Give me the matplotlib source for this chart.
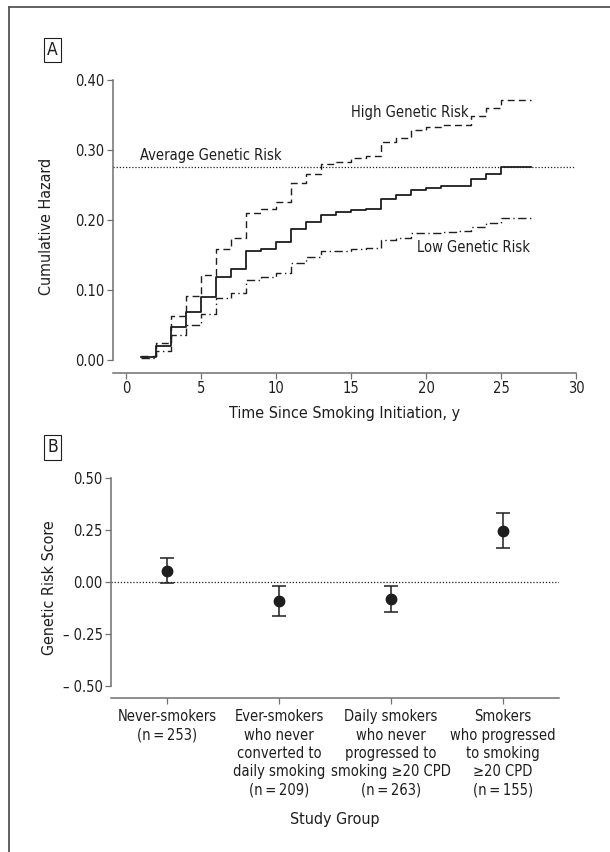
import matplotlib
matplotlib.use("Agg")
import matplotlib.pyplot as plt

plt.rcParams['font.family'] = ['Liberation Sans Narrow', 'DejaVu Sans']
plt.rcParams['font.stretch'] = 'condensed'

# Panel A: cumulative hazard by genetic risk (step curves, years 1..25, flat to 27)
years = [1, 2, 3, 4, 5, 6, 7, 8, 9, 10, 11, 12, 13, 14, 15, 16, 17, 18, 19, 20,
         21, 22, 23, 24, 25, 27]
avg_risk = [0.004, 0.020, 0.047, 0.068, 0.090, 0.118, 0.130, 0.155, 0.159, 0.168,
            0.187, 0.197, 0.207, 0.211, 0.214, 0.216, 0.230, 0.235, 0.243, 0.246,
            0.249, 0.249, 0.258, 0.265, 0.275, 0.275]
high_risk = [0.005, 0.024, 0.063, 0.092, 0.121, 0.158, 0.174, 0.210, 0.216, 0.226,
             0.253, 0.266, 0.280, 0.283, 0.289, 0.291, 0.312, 0.317, 0.329, 0.333,
             0.335, 0.336, 0.349, 0.360, 0.371, 0.371]
low_risk = [0.003, 0.013, 0.035, 0.050, 0.066, 0.088, 0.096, 0.114, 0.118, 0.124,
            0.139, 0.147, 0.155, 0.156, 0.159, 0.160, 0.171, 0.174, 0.181, 0.182,
            0.183, 0.184, 0.190, 0.196, 0.203, 0.203]
avg_level = 0.275

# Panel B: genetic risk score by study group
groups = ["Never-smokers\n(n\u2009=\u2009253)",
          "Ever-smokers\nwho never\nconverted to\ndaily smoking\n(n\u2009=\u2009209)",
          "Daily smokers\nwho never\nprogressed to\nsmoking \u226520 CPD\n(n\u2009=\u2009263)",
          "Smokers\nwho progressed\nto smoking\n\u226520 CPD\n(n\u2009=\u2009155)"]
score = [0.053, -0.094, -0.082, 0.244]
ci_low = [-0.005, -0.165, -0.144, 0.163]
ci_high = [0.112, -0.022, -0.022, 0.329]

ink = '#1e1e1e'
spine_c = '#707070'
fs = 10.5

fig = plt.figure(figsize=(6.1, 8.52), dpi=100)

# outer frame (top and left only)
fig.add_artist(plt.Line2D([9/610, 1], [1 - 6.7/852, 1 - 6.7/852],
                          transform=fig.transFigure, color='#555555', lw=1.3))
fig.add_artist(plt.Line2D([9/610, 9/610], [0, 1 - 6.7/852],
                          transform=fig.transFigure, color='#555555', lw=1.3))


def style_axes(ax):
    for s in ['top', 'right']:
        ax.spines[s].set_visible(False)
    for s in ['left', 'bottom']:
        ax.spines[s].set_color(spine_c)
        ax.spines[s].set_linewidth(1.1)
    ax.tick_params(direction='out', length=4, width=0.9, color=spine_c,
                   labelsize=fs, labelcolor=ink, pad=2)


# ---- Panel A ----
axA = fig.add_axes([113/610, 1 - 373/852, (576 - 113)/610, (373 - 80)/852])
style_axes(axA)
axA.spines['left'].set_bounds(0, 0.40)
axA.step(years, avg_risk, where='post', color=ink, lw=1.3, linestyle='-')
axA.step(years, high_risk, where='post', color=ink, lw=1.0, linestyle=(0, (5, 3)))
axA.step(years, low_risk, where='post', color=ink, lw=1.0, linestyle=(0, (6, 2.5, 1, 2.5)))
axA.axhline(avg_level, color=ink, lw=0.9, linestyle=(0, (1, 1.5)))
axA.set_xlim(-0.87, 30)
axA.set_ylim(-0.0186, 0.40)
axA.set_xticks(range(0, 31, 5))
axA.set_yticks([0.0, 0.1, 0.2, 0.3, 0.4])
axA.set_yticklabels(['%.2f' % v for v in [0.0, 0.1, 0.2, 0.3, 0.4]])
axA.set_xlabel('Time Since Smoking Initiation, y', fontsize=fs + 1, color=ink, labelpad=7)
axA.set_ylabel('Cumulative Hazard', fontsize=fs + 1, color=ink, labelpad=15)
axA.text(0.93, 0.292, 'Average Genetic Risk', fontsize=fs, color=ink, va='center', ha='left')
axA.text(15.0, 0.353, 'High Genetic Risk', fontsize=fs, color=ink, va='center', ha='left')
axA.text(19.4, 0.160, 'Low Genetic Risk', fontsize=fs, color=ink, va='center', ha='left')

# ---- Panel B ----
axB = fig.add_axes([111/610, 1 - 698.3/852, (559 - 111)/610, (698.3 - 477.7)/852])
style_axes(axB)
axB.spines['left'].set_bounds(-0.5, 0.5)
xpos = list(range(len(groups)))
err_lo = [s - l for s, l in zip(score, ci_low)]
err_hi = [h - s for s, h in zip(score, ci_high)]
axB.axhline(0, color=ink, lw=0.9, linestyle=(0, (1, 1.5)), zorder=1)
axB.errorbar(xpos, score, yerr=[err_lo, err_hi], fmt='o', color=ink, ms=7.5,
             capsize=5, elinewidth=1.1, capthick=1.1, zorder=3)
axB.set_xlim(-0.5, 3.5)
axB.set_ylim(-0.56, 0.50)
axB.set_xticks(xpos)
axB.set_xticklabels(groups, linespacing=1.28)
bticks = [0.5, 0.25, 0.0, -0.25, -0.5]
axB.set_yticks(bticks)
axB.set_yticklabels(['%.2f' % v if v >= 0 else '\u2013 %.2f' % abs(v) for v in bticks])
axB.tick_params(axis='x', pad=4)
axB.set_xlabel('Study Group', fontsize=fs + 1, color=ink, labelpad=10)
axB.set_ylabel('Genetic Risk Score', fontsize=fs + 1, color=ink, labelpad=4)

# panel letters
fig.text(52.5/610, 1 - 50/852, 'A', fontsize=12.5, color=ink, ha='center', va='center',
         bbox=dict(boxstyle='square,pad=0.18', fc='white', ec=ink, lw=0.8))
fig.text(52.5/610, 1 - 447.5/852, 'B', fontsize=12.5, color=ink, ha='center', va='center',
         bbox=dict(boxstyle='square,pad=0.18', fc='white', ec=ink, lw=0.8))

fig.savefig('out.png', dpi=100)
